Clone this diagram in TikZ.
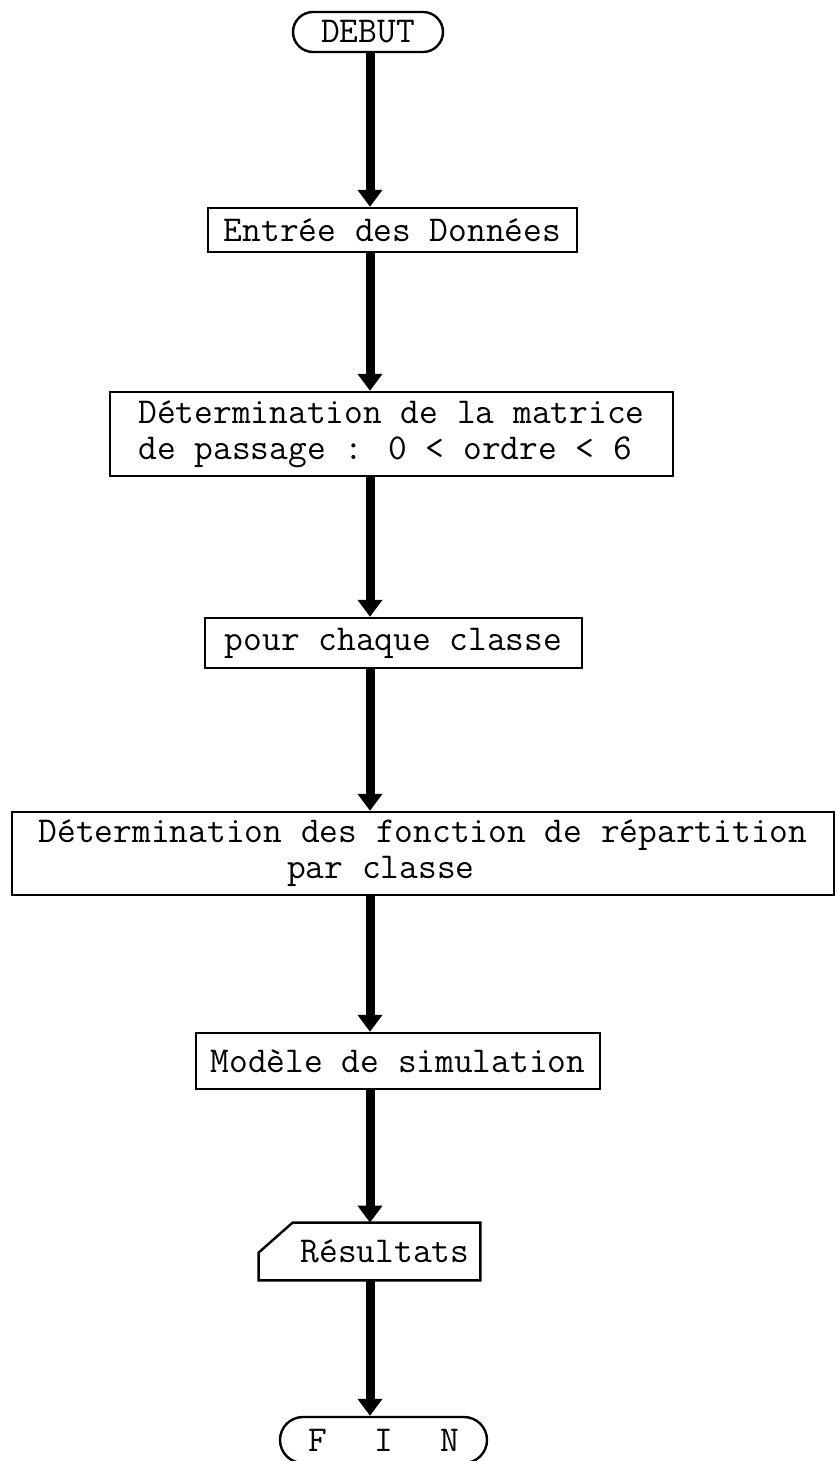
\documentclass[tikz,border=0pt]{standalone}
\usetikzlibrary{shapes.misc,arrows.meta}
\begin{document}
\begin{tikzpicture}[x=0.5pt,y=-0.5pt,
  every node/.style={font=\ttfamily\fontsize{18.2}{18}\selectfont},
  term/.style={draw,rounded rectangle,line width=1.2pt,inner sep=0pt},
  stepbox/.style={draw,rectangle,line width=1.2pt,inner sep=0pt,align=left},
  flow/.style={line width=4.5pt,-{Triangle[width=12pt,length=8.5pt]}}]
\useasboundingbox (0,0) rectangle (836,1461);
\coordinate (axis) at (370,0);
\node(debut) [term,minimum width=75pt,minimum height=20pt] at (368,32) {DEBUT};
\node(entree) [stepbox,minimum width=184.5pt,minimum height=22pt] at (392.5,230) {Entrée des Données};
\node(matrice) [stepbox,minimum width=281.5pt,minimum height=42pt] at (391.5,434) {Détermination de la matrice\\de passage : 0 < ordre < 6};
\node(classe) [stepbox,minimum width=188.5pt,minimum height=25pt] at (393.5,643) {pour chaque classe};
\node(repart) [stepbox,minimum width=411pt,minimum height=41.5pt] at (423,853.5) {Détermination des fonction de répartition\\\hspace*{6.825em}par classe};
\node(modele) [stepbox,minimum width=202pt,minimum height=28pt] at (398,1061) {Modèle de simulation};
\node(res) [inner sep=0pt,minimum width=110.5pt,minimum height=28.5pt] at (369.5,1251.5) {\hspace*{15.5pt}Résultats};
\draw[line width=1.2pt] ([yshift=-15pt]res.north west) -- ([xshift=17pt]res.north west) -- (res.north east) -- (res.south east) -- (res.south west) -- cycle;
\node(fin) [term,minimum width=103.5pt,minimum height=23pt] at (383.5,1440) {F\hspace{1.3em}I\hspace{1.3em}N};

\draw[flow] (debut.south -| axis) -- (entree.north -| axis);
\draw[flow] (entree.south -| axis) -- (matrice.north -| axis);
\draw[flow] (matrice.south -| axis) -- (classe.north -| axis);
\draw[flow] (classe.south -| axis) -- (repart.north -| axis);
\draw[flow] (repart.south -| axis) -- (modele.north -| axis);
\draw[flow] (modele.south -| axis) -- (res.north -| axis);
\draw[flow] (res.south -| axis) -- (fin.north -| axis);
\end{tikzpicture}
\end{document}
